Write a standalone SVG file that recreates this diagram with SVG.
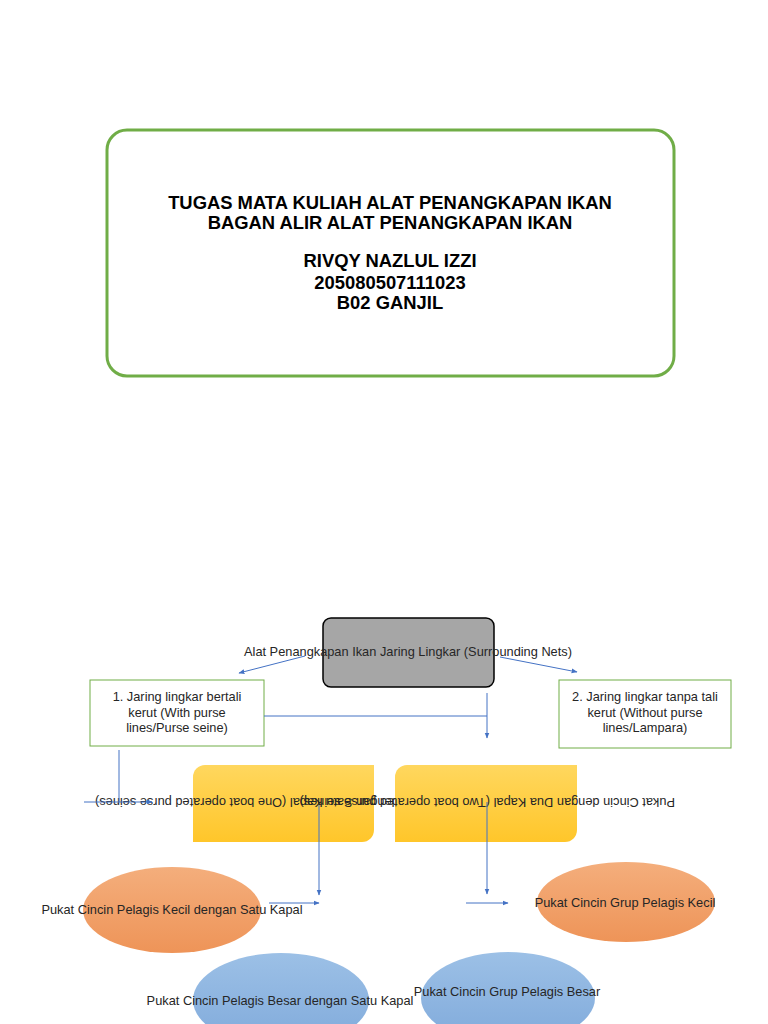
<svg xmlns="http://www.w3.org/2000/svg" width="768" height="1024" viewBox="0 0 768 1024">
<style>
.t{font-family:"Liberation Sans",Arial,sans-serif;font-size:12.8px;fill:#262626;}
.title{font-family:"Liberation Sans",Arial,sans-serif;font-size:18.4px;font-weight:bold;fill:#000;text-anchor:middle;}
.c{text-anchor:middle;}
.ln{stroke:#4472C4;stroke-width:1;fill:none;}
.arr{stroke:#4472C4;stroke-width:1;fill:none;marker-end:url(#ah);}
.gbox{fill:#fff;stroke:#70AD47;stroke-width:1;}
</style>
<defs>
<marker id="ah" viewBox="0 0 10 10" refX="9" refY="5" markerWidth="6" markerHeight="6" orient="auto" markerUnits="userSpaceOnUse">
<path d="M0,1 L10,5 L0,9 z" fill="#4472C4"/>
</marker>
<linearGradient id="gy" x1="0" y1="0" x2="0" y2="1">
<stop offset="0" stop-color="#FFD75E"/><stop offset="1" stop-color="#FFC62A"/>
</linearGradient>
<linearGradient id="go" x1="0" y1="0" x2="0" y2="1">
<stop offset="0" stop-color="#F4AE7C"/><stop offset="1" stop-color="#EE9458"/>
</linearGradient>
<linearGradient id="gb" x1="0" y1="0" x2="0" y2="1">
<stop offset="0" stop-color="#9CC0E6"/><stop offset="1" stop-color="#80AADB"/>
</linearGradient>
</defs>

<g id="title-box">
<rect x="107" y="130" width="567" height="246" rx="20" ry="20" fill="#fff" stroke="#70AD47" stroke-width="3"/>
<text class="title" x="390" y="209">TUGAS MATA KULIAH ALAT PENANGKAPAN IKAN</text>
<text class="title" x="390" y="229">BAGAN ALIR ALAT PENANGKAPAN IKAN</text>
<text class="title" x="390" y="267">RIVQY NAZLUL IZZI</text>
<text class="title" x="390" y="289">205080507111023</text>
<text class="title" x="390" y="309">B02 GANJIL</text>
</g>

<g id="root">
<rect x="323" y="618" width="171" height="69" rx="8" ry="8" fill="#A6A6A6" stroke="#000" stroke-width="1.5"/>
<text class="t c" x="408" y="656">Alat Penangkapan Ikan Jaring Lingkar (Surrounding Nets)</text>
</g>

<g id="box1">
<rect class="gbox" x="90" y="680" width="174" height="66"/>
<text class="t c" x="177" y="701">1. Jaring lingkar bertali</text>
<text class="t c" x="177" y="717">kerut (With purse</text>
<text class="t c" x="177" y="732">lines/Purse seine)</text>
</g>

<g id="box2">
<rect class="gbox" x="559" y="680" width="172" height="68"/>
<text class="t c" x="645" y="701">2. Jaring lingkar tanpa tali</text>
<text class="t c" x="645" y="717">kerut (Without purse</text>
<text class="t c" x="645" y="732">lines/Lampara)</text>
</g>

<g id="one-boat">
<path d="M193,777 A12,12 0 0 1 205,765 L374,765 L374,830 A12,12 0 0 1 362,842 L193,842 Z" fill="url(#gy)"/>
<text class="t" text-anchor="end" transform="translate(95,802) rotate(180)" x="0" y="4">Pukat Cincin dengan Satu Kapal (One boat operated purse seines)</text>
</g>

<g id="two-boat">
<path d="M395,777 A12,12 0 0 1 407,765 L577,765 L577,830 A12,12 0 0 1 565,842 L395,842 Z" fill="url(#gy)"/>
<text class="t" transform="translate(675,802) rotate(180)" x="0" y="4">Pukat Cincin dengan Dua Kapal (Two boat operated purse seines)</text>
</g>

<g id="kecil-satu">
<ellipse cx="172" cy="910" rx="89" ry="43" fill="url(#go)"/>
<text class="t c" x="172" y="914">Pukat Cincin Pelagis Kecil dengan Satu Kapal</text>
</g>

<g id="kecil-grup">
<ellipse cx="626" cy="902" rx="89" ry="40" fill="url(#go)"/>
<text class="t c" x="625" y="907">Pukat Cincin Grup Pelagis Kecil</text>
</g>

<g id="besar-satu">
<ellipse cx="281" cy="1000" rx="88" ry="47" fill="url(#gb)"/>
<text class="t c" x="280" y="1005">Pukat Cincin Pelagis Besar dengan Satu Kapal</text>
</g>

<g id="besar-grup">
<ellipse cx="508" cy="998" rx="87" ry="46" fill="url(#gb)"/>
<text class="t c" x="507" y="996">Pukat Cincin Grup Pelagis Besar</text>
</g>

<g id="connectors">
<line class="arr" x1="305" y1="656" x2="239" y2="673"/>
<line class="arr" x1="500" y1="657" x2="577" y2="672"/>
<line class="ln" x1="264" y1="716" x2="487" y2="716"/>
<line class="arr" x1="487" y1="693" x2="487" y2="738"/>
<line class="ln" x1="119" y1="750" x2="119" y2="802"/>
<line class="arr" x1="84" y1="802" x2="152" y2="802"/>
<line class="arr" x1="319" y1="805" x2="319" y2="895"/>
<line class="arr" x1="487" y1="802" x2="487" y2="894"/>
<line class="arr" x1="269" y1="903" x2="319" y2="903"/>
<line class="arr" x1="466" y1="903" x2="508" y2="903"/>
</g>
</svg>
